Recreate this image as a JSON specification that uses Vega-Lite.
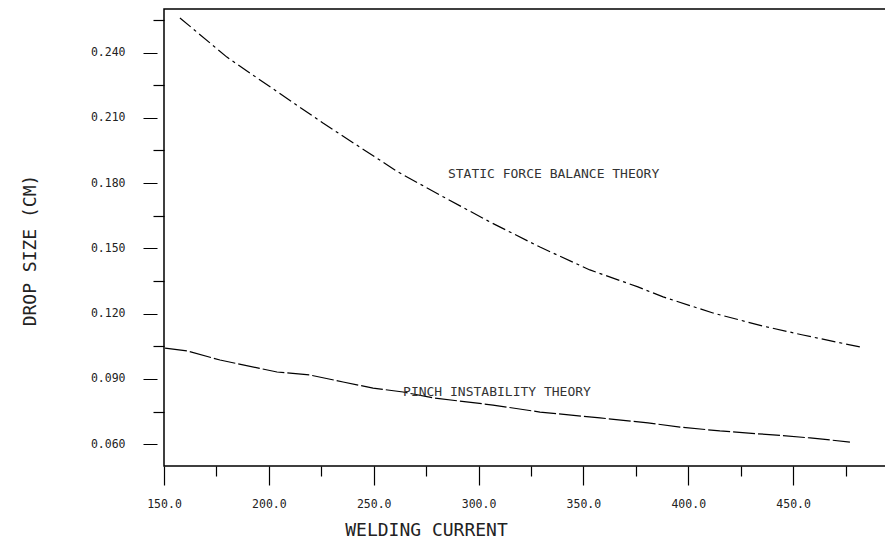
{
  "$schema": "https://vega.github.io/schema/vega-lite/v6.json",
  "width": 722,
  "height": 457,
  "autosize": {"type": "none"},
  "padding": {"left": 164, "top": 9, "right": 0, "bottom": 84},
  "background": "white",
  "config": {
    "view": {"stroke": "black", "strokeWidth": 1.5},
    "font": "DejaVu Sans Mono"
  },
  "datasets": {
    "curves": [
      {"current": 157.6, "drop": 0.2559, "theory": "static"},
      {"current": 180.0, "drop": 0.2379, "theory": "static"},
      {"current": 195.8, "drop": 0.2274, "theory": "static"},
      {"current": 225.8, "drop": 0.2076, "theory": "static"},
      {"current": 261.6, "drop": 0.1851, "theory": "static"},
      {"current": 281.6, "drop": 0.1745, "theory": "static"},
      {"current": 305.5, "drop": 0.1621, "theory": "static"},
      {"current": 329.3, "drop": 0.1506, "theory": "static"},
      {"current": 353.1, "drop": 0.1401, "theory": "static"},
      {"current": 376.0, "drop": 0.1323, "theory": "static"},
      {"current": 388.0, "drop": 0.1277, "theory": "static"},
      {"current": 411.8, "drop": 0.1203, "theory": "static"},
      {"current": 435.6, "drop": 0.1143, "theory": "static"},
      {"current": 454.7, "drop": 0.1102, "theory": "static"},
      {"current": 481.9, "drop": 0.1047, "theory": "static"},
      {"current": 150.5, "drop": 0.1042, "theory": "pinch"},
      {"current": 161.0, "drop": 0.1029, "theory": "pinch"},
      {"current": 176.7, "drop": 0.0987, "theory": "pinch"},
      {"current": 203.9, "drop": 0.0932, "theory": "pinch"},
      {"current": 219.6, "drop": 0.0918, "theory": "pinch"},
      {"current": 235.4, "drop": 0.0886, "theory": "pinch"},
      {"current": 249.7, "drop": 0.0858, "theory": "pinch"},
      {"current": 264.0, "drop": 0.0840, "theory": "pinch"},
      {"current": 278.3, "drop": 0.0813, "theory": "pinch"},
      {"current": 306.9, "drop": 0.0780, "theory": "pinch"},
      {"current": 329.3, "drop": 0.0748, "theory": "pinch"},
      {"current": 357.9, "drop": 0.0721, "theory": "pinch"},
      {"current": 380.8, "drop": 0.0698, "theory": "pinch"},
      {"current": 396.1, "drop": 0.0679, "theory": "pinch"},
      {"current": 415.1, "drop": 0.0661, "theory": "pinch"},
      {"current": 440.4, "drop": 0.0643, "theory": "pinch"},
      {"current": 458.1, "drop": 0.0629, "theory": "pinch"},
      {"current": 477.1, "drop": 0.0610, "theory": "pinch"}
    ],
    "labels": [
      {"current": 285.4, "drop": 0.1842, "label": "STATIC FORCE BALANCE THEORY"},
      {"current": 264.0, "drop": 0.0840, "label": "PINCH INSTABILITY THEORY"}
    ]
  },
  "layer": [
    {
      "data": {"name": "curves"},
      "transform": [{"filter": "datum.theory == 'static'"}],
      "mark": {"type": "line", "color": "black", "strokeWidth": 1.2, "strokeDash": [14, 4, 3, 4], "clip": true},
      "encoding": {
        "x": {
          "field": "current", "type": "quantitative",
          "scale": {"domain": [150, 494.3], "nice": false, "zero": false},
          "axis": {
            "title": "WELDING CURRENT",
            "values": [150, 175, 200, 225, 250, 275, 300, 325, 350, 375, 400, 425, 450, 475],
            "tickCount": 30,
            "labelExpr": "datum.value % 50 == 0 ? format(datum.value, '.1f') : ''",
            "domain": false,
            "grid": false,
            "tickColor": "black",
            "tickWidth": 1.2,
            "tickSize": {"condition": {"test": "datum.value % 50 == 0", "value": 19}, "value": 10},
            "labelPadding": 13,
            "labelFont": "DejaVu Sans Mono",
            "labelFontSize": 11.5,
            "labelColor": "#222",
            "labelFlush": false,
            "labelOverlap": false,
            "titleFont": "DejaVu Sans Mono",
            "titleFontSize": 18,
            "titleFontWeight": "normal",
            "titleColor": "#222",
            "titleX": 262,
            "titleY": 64,
            "titleBaseline": "middle"
          }
        },
        "y": {
          "field": "drop", "type": "quantitative",
          "scale": {"domain": [0.05, 0.26], "nice": false, "zero": false},
          "axis": {
            "title": "DROP SIZE (CM)",
            "values": [0.06, 0.075, 0.09, 0.105, 0.12, 0.135, 0.15, 0.165, 0.18, 0.195, 0.21, 0.225, 0.24, 0.255],
            "tickCount": 30,
            "labelExpr": "abs(datum.value * 100 / 3 - round(datum.value * 100 / 3)) < 0.01 ? format(datum.value, '.3f') : ''",
            "domain": false,
            "grid": false,
            "tickColor": "black",
            "tickWidth": 1.2,
            "tickSize": {"condition": {"test": "abs(datum.value * 100 / 3 - round(datum.value * 100 / 3)) < 0.01", "value": 21}, "value": 11},
            "tickDash": {"condition": {"test": "abs(datum.value * 100 / 3 - round(datum.value * 100 / 3)) < 0.01", "value": [0, 7, 14, 60]}, "value": [11, 1]},
            "labelPadding": 18,
            "labelFont": "DejaVu Sans Mono",
            "labelFontSize": 11.5,
            "labelColor": "#222",
            "labelFlush": false,
            "labelOverlap": false,
            "titleFont": "DejaVu Sans Mono",
            "titleFontSize": 18,
            "titleFontWeight": "normal",
            "titleColor": "#222",
            "titleX": -134,
            "titleY": 241,
            "titleBaseline": "middle"
          }
        }
      }
    },
    {
      "data": {"name": "curves"},
      "transform": [{"filter": "datum.theory == 'pinch'"}],
      "mark": {"type": "line", "color": "black", "strokeWidth": 1.2, "strokeDash": [22, 3], "clip": true},
      "encoding": {
        "x": {"field": "current", "type": "quantitative"},
        "y": {"field": "drop", "type": "quantitative"}
      }
    },
    {
      "data": {"name": "labels"},
      "mark": {"type": "text", "align": "left", "baseline": "middle", "font": "DejaVu Sans Mono", "fontSize": 13, "color": "#333"},
      "encoding": {
        "x": {"field": "current", "type": "quantitative"},
        "y": {"field": "drop", "type": "quantitative"},
        "text": {"field": "label"}
      }
    }
  ]
}
